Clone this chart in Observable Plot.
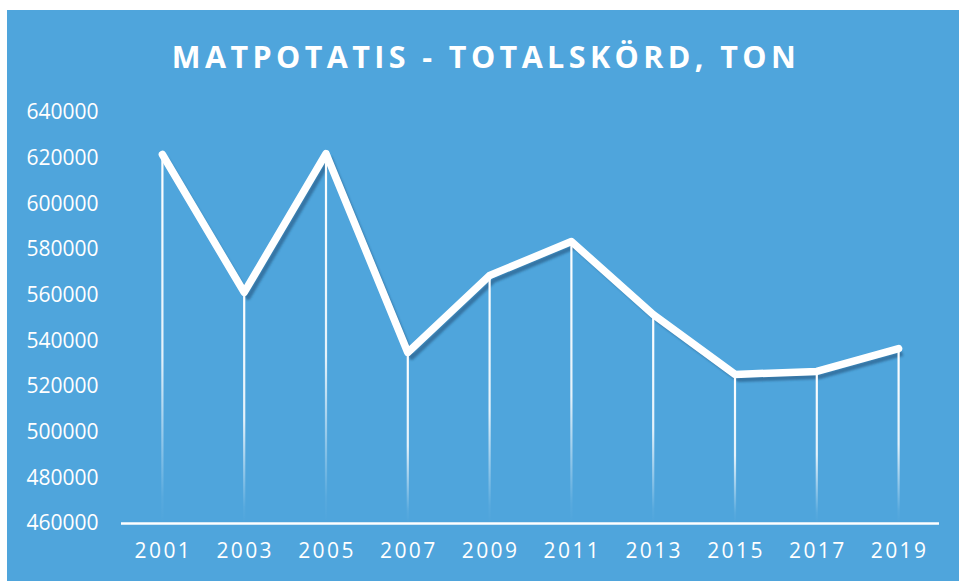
<!DOCTYPE html>
<html>
<head>
<meta charset="utf-8">
<script src="https://cdn.jsdelivr.net/npm/d3@7"></script>
<script src="https://cdn.jsdelivr.net/npm/@observablehq/plot@0.6"></script>
<style>
  html, body { margin: 0; padding: 0; background: #ffffff; }
  #card {
    position: absolute; left: 7px; top: 10px; width: 952px; height: 571px;
    background: #4FA5DC; overflow: hidden;
  }
  #title {
    height: 90px; line-height: 92px; text-align: center; color: #ffffff;
    font-family: "Open Sans", sans-serif; font-weight: 700; font-size: 30.5px;
    letter-spacing: 4.4px; padding-left: 6px;
  }
  #chart svg { display: block; }
  #chart g[aria-label="x-axis tick label"] text { letter-spacing: 2.4px; }
</style>
</head>
<body>
<div id="card">
  <div id="title">MATPOTATIS - TOTALSKÖRD, TON</div>
  <div id="chart"></div>
</div>
<script>
const years = ["2001","2003","2005","2007","2009","2011","2013","2015","2017","2019"];
const tons = [621600, 561200, 622000, 534900, 568600, 583500, 551500, 525300, 526600, 536600];
const yTicks = [460000, 480000, 500000, 520000, 540000, 560000, 580000, 600000, 620000, 640000];

const data = years.map((y, i) => ({year: y, value: tons[i]}));
const base = 460000;

const plot = Plot.plot({
  width: 952,
  height: 481,
  marginTop: 12,
  marginBottom: 58,
  marginLeft: 114,
  marginRight: 20,
  style: {background: "transparent", color: "#ffffff", fontFamily: "'Open Sans', sans-serif", fontSize: "21px", overflow: "visible"},
  x: {type: "point", domain: years, padding: 0.5, round: false, label: null},
  y: {domain: [460000, 640000], label: null},
  marks: [
    Plot.axisY({ticks: yTicks, tickSize: 0, tickPadding: 0, textAnchor: "start", dx: -95, tickFormat: d => String(d), fill: "#ffffff", fontSize: 21, label: null}),
    Plot.axisX({tickSize: 0, tickPadding: 20, fill: "#ffffff", fontSize: 21, label: null, dx: 1}),
    Plot.ruleY([base], {stroke: "#ffffff", strokeWidth: 2.5}),
    Plot.line(data, {x: "year", y: "value", stroke: "#2A618C", strokeOpacity: 0.7, strokeWidth: 5, dx: 4, dy: 5, strokeLinejoin: "round", strokeLinecap: "butt", className: "shadow"}),
    Plot.ruleX(data, {x: "year", y1: base, y2: "value", stroke: "#ffffff", strokeWidth: 2.2, className: "drop"}),
    Plot.line(data, {x: "year", y: "value", stroke: "#ffffff", strokeWidth: 7.5, strokeLinejoin: "round", strokeLinecap: "round"})
  ]
});

document.getElementById("chart").appendChild(plot);

const svg = d3.select(plot);
const defs = svg.insert("defs", ":first-child");
defs.append("filter").attr("id", "blur").append("feGaussianBlur").attr("stdDeviation", 0.9);
svg.selectAll(".shadow path").attr("filter", "url(#blur)");
svg.selectAll('g[aria-label="x-axis tick label"] text').style("letter-spacing", "2.4px");
svg.selectAll(".drop line").each(function(d, i) {
  const el = d3.select(this);
  const x1 = +el.attr("x1"), y1 = +el.attr("y1"), y2 = +el.attr("y2");
  const top = Math.min(y1, y2), bot = Math.max(y1, y2);
  const g = defs.append("linearGradient")
    .attr("id", "dg" + i)
    .attr("gradientUnits", "userSpaceOnUse")
    .attr("x1", x1).attr("x2", x1)
    .attr("y1", top).attr("y2", bot);
  g.append("stop").attr("offset", "0").attr("stop-color", "#ffffff").attr("stop-opacity", 1);
  g.append("stop").attr("offset", "0.55").attr("stop-color", "#ffffff").attr("stop-opacity", 0.85);
  g.append("stop").attr("offset", "0.93").attr("stop-color", "#ffffff").attr("stop-opacity", 0.05);
  g.append("stop").attr("offset", "1").attr("stop-color", "#ffffff").attr("stop-opacity", 0);
  el.attr("stroke", "url(#dg" + i + ")");
});
svg.selectAll(".drop").attr("stroke", null);
</script>
</body>
</html>
